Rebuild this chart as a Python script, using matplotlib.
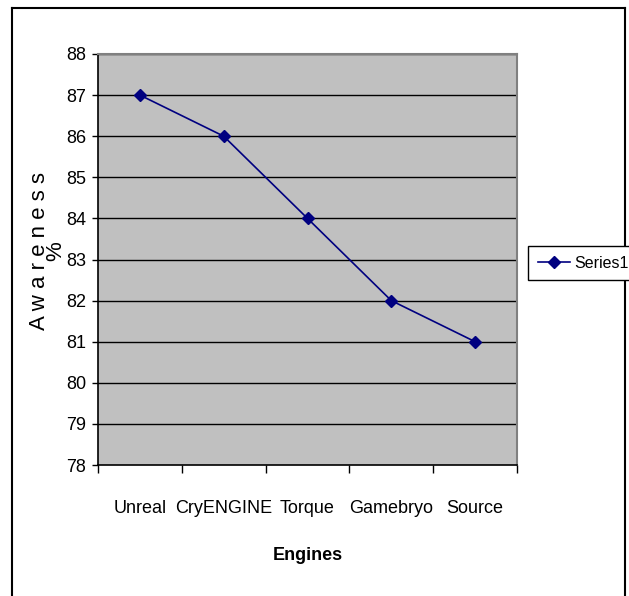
import matplotlib
matplotlib.use("Agg")
import matplotlib.pyplot as plt
from matplotlib.lines import Line2D

# data
engines = ["Unreal", "CryENGINE", "Torque", "Gamebryo", "Source"]
awareness = [87, 86, 84, 82, 81]
yticks = list(range(78, 89))

plt.rcParams['font.family'] = ['Liberation Sans', 'DejaVu Sans']

fig = plt.figure(figsize=(6.29, 5.96), dpi=100)
ax = fig.add_axes([98/629, 1-465/596, (517-98)/629, (465-54)/596])
ax.set_facecolor("#C0C0C0")

x = list(range(len(engines)))
ax.plot(x, awareness, color="#000080", lw=1.2, marker="D", markersize=6,
        label="Series1", zorder=3)

ax.set_xlim(-0.5, len(engines)-0.5)
ax.set_ylim(78, 88)
ax.set_yticks(yticks)
for v in yticks[1:]:
    ax.axhline(v, color="black", lw=1, zorder=1)

ax.set_xticks(x)
ax.set_xticklabels(engines, fontsize=13)
ax.set_xticks([i-0.5 for i in range(len(engines)+1)], minor=True)
ax.tick_params(axis="x", which="major", length=0, pad=25)
ax.tick_params(axis="x", which="minor", length=6, width=1, direction="out")
ax.tick_params(axis="y", length=4.5, width=1, pad=4, labelsize=13)

for s in ["top", "right"]:
    ax.spines[s].set_color("#808080")
    ax.spines[s].set_linewidth(1.5)
for s in ["left", "bottom"]:
    ax.spines[s].set_color("black")
    ax.spines[s].set_linewidth(1.2)

ax.set_xlabel("Engines", fontsize=13, fontweight="bold", labelpad=22)
ax.set_ylabel("A w a r e n e s s\n%", fontsize=16, linespacing=0.75)
ax.yaxis.set_label_coords(-0.075, 0.52)

fig.legend(loc="center left", bbox_to_anchor=(528/629, 1-263/596), fontsize=11.5,
           fancybox=False, edgecolor="black", framealpha=1, borderaxespad=0,
           handlelength=2.0, handletextpad=0.3, borderpad=0.6)

# outer chart border (no bottom edge)
for xs, ys in [([12/629, 12/629], [0, 1-8/596]),
               ([12/629, 625/629], [1-8/596, 1-8/596]),
               ([625/629, 625/629], [1-8/596, 0])]:
    fig.add_artist(Line2D(xs, ys, color="black", lw=1.5))

fig.savefig("out.png", dpi=100)
